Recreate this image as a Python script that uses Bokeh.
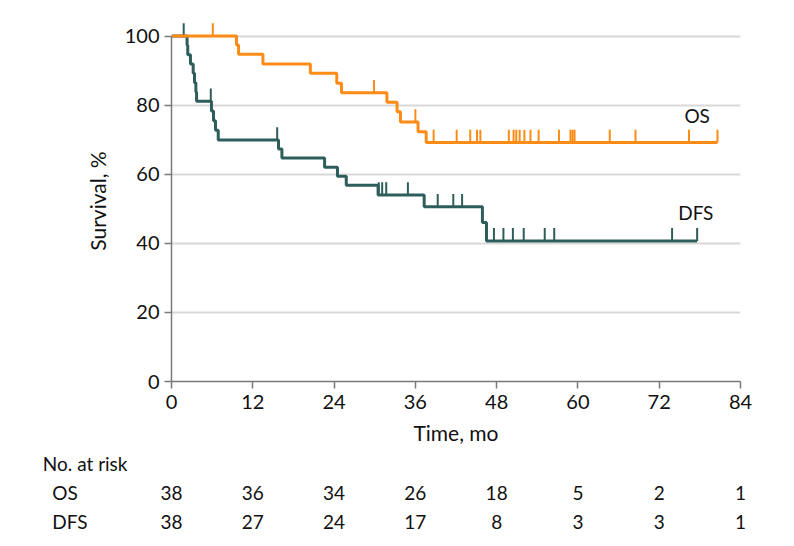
from bokeh.plotting import figure
from bokeh.models import Range1d, FixedTicker
from bokeh.layouts import column
from bokeh.core.properties import value
from bokeh.embed import file_html
from bokeh.resources import INLINE

# ---- data ----
os_times = [0, 9.6, 9.9, 13.5, 20.5, 24.4, 25.1, 31.8, 33.3, 33.8, 36.4, 37.6, 80.6]
os_surv = [100, 97.4, 94.7, 91.9, 89.2, 86.3, 83.6, 80.8, 78.1, 75.1, 72.3, 69.2, 69.2]
os_censor = [6.1, 29.9, 36.0, 38.7, 42.1, 44.1, 45.1, 45.6, 49.8, 50.5, 50.9, 51.4,
             52.1, 53.0, 54.2, 57.2, 58.9, 59.2, 59.5, 64.7, 68.5, 76.4, 80.6]

dfs_times = [0, 2.3, 2.4, 2.8, 3.2, 3.4, 3.6, 3.7, 5.9, 6.2, 6.5, 6.9, 15.8, 16.3,
             22.6, 24.5, 25.8, 30.5, 37.3, 45.9, 46.5, 77.6]
dfs_surv = [100, 97.3, 94.6, 91.9, 89.2, 86.5, 83.8, 81.1, 78.3, 75.5, 72.7, 69.9,
            67.3, 64.7, 62.0, 59.4, 56.8, 54.0, 50.6, 46.0, 40.7, 40.7]
dfs_censor = [1.8, 5.8, 15.6, 30.6, 31.1, 31.7, 34.9, 39.3, 41.6, 42.9, 47.6, 49.0,
              50.4, 52.0, 55.1, 56.5, 73.9, 77.6]

risk_times = [0, 12, 24, 36, 48, 60, 72, 84]
os_at_risk = [38, 36, 34, 26, 18, 5, 2, 1]
dfs_at_risk = [38, 27, 24, 17, 8, 3, 3, 1]

x_ticks = [0, 12, 24, 36, 48, 60, 72, 84]
y_ticks = [0, 20, 40, 60, 80, 100]

OS_COLOR = "#FD8C16"
DFS_COLOR = "#2E5E5B"
TEXT_COLOR = "#111111"
FONT = "Lato"


def surv_at(times, surv, t):
    s = surv[0]
    for ti, si in zip(times, surv):
        if ti <= t:
            s = si
    return s


W = 786
LEFT, RIGHT = 171, 46
FRAME_W = W - LEFT - RIGHT
TOP = 20
FRAME_H = 361
H_MAIN = 453
H_TABLE = 85

p = figure(width=W, height=H_MAIN, output_backend="svg", toolbar_location=None,
           x_range=Range1d(0, 84), y_range=Range1d(0, 104.5),
           min_border_left=LEFT, min_border_right=RIGHT,
           min_border_top=TOP, min_border_bottom=H_MAIN - TOP - FRAME_H)
p.frame_align = False
p.outline_line_color = None
p.background_fill_color = "white"
p.border_fill_color = "white"

p.xgrid.visible = False
p.ygrid.ticker = FixedTicker(ticks=y_ticks)
p.ygrid.grid_line_color = "#d9d9d9"
p.ygrid.grid_line_width = 2

for ax in (p.xaxis[0], p.yaxis[0]):
    ax.axis_line_color = "#7a7a7a"
    ax.axis_line_width = 1.5
    ax.major_tick_line_color = "#7a7a7a"
    ax.major_tick_line_width = 1.5
    ax.major_tick_in = 0
    ax.major_tick_out = 7
    ax.minor_tick_line_color = None
    ax.major_label_text_font = FONT
    ax.major_label_text_font_size = "20px"
    ax.major_label_text_color = TEXT_COLOR
    ax.axis_label_text_font = FONT
    ax.axis_label_text_font_size = "21px"
    ax.axis_label_text_font_style = "normal"
    ax.axis_label_text_color = TEXT_COLOR

p.xaxis.ticker = FixedTicker(ticks=x_ticks)
p.yaxis.ticker = FixedTicker(ticks=y_ticks)
p.yaxis.bounds = (0, 100)
p.xaxis.axis_label = "Time, mo"
p.yaxis.axis_label = "Survival, %"
p.xaxis.major_label_standoff = 6
p.xaxis.axis_label_standoff = 8
p.yaxis.major_label_standoff = 5
p.yaxis.axis_label_standoff = 12

TICK_H = 3.7

# DFS
p.step(dfs_times, dfs_surv, mode="after", line_width=3, line_color=DFS_COLOR)
dfs_cs = [surv_at(dfs_times, dfs_surv, t) for t in dfs_censor]
p.segment(x0=dfs_censor, y0=dfs_cs, x1=dfs_censor, y1=[s + TICK_H for s in dfs_cs],
          line_width=2, line_color=DFS_COLOR)

# OS
p.step(os_times, os_surv, mode="after", line_width=3, line_color=OS_COLOR)
os_cs = [surv_at(os_times, os_surv, t) for t in os_censor]
p.segment(x0=os_censor, y0=os_cs, x1=os_censor, y1=[s + TICK_H for s in os_cs],
          line_width=2, line_color=OS_COLOR)

p.text(x=[77.6], y=[76.9], text=["OS"], text_align="center", text_baseline="middle",
       text_font=value(FONT), text_font_size="19px", text_color=TEXT_COLOR)
p.text(x=[77.4], y=[48.8], text=["DFS"], text_align="center", text_baseline="middle",
       text_font=value(FONT), text_font_size="19px", text_color=TEXT_COLOR)

# ---- number at risk table: full-width frame, same months-to-pixel scale ----
px_per_mo = FRAME_W / 84
t = figure(width=W, height=H_TABLE, output_backend="svg", toolbar_location=None,
           x_range=Range1d(-LEFT / px_per_mo, (W - LEFT) / px_per_mo),
           y_range=Range1d(H_TABLE, 0),
           min_border_left=0, min_border_right=0, min_border_top=0, min_border_bottom=0)
t.frame_align = False
t.axis.visible = False
t.grid.visible = False
t.outline_line_color = None
t.border_fill_color = "white"
t.background_fill_color = "white"

row_no, row_os, row_dfs = 10, 39, 68
t.text(x=[-19.0], y=[row_no], text=["No. at risk"], text_align="left",
       text_baseline="middle", text_font=value(FONT), text_font_size="19px",
       text_color=TEXT_COLOR)
t.text(x=[-17.6, -17.6], y=[row_os, row_dfs], text=["OS", "DFS"], text_align="left",
       text_baseline="middle", text_font=value(FONT), text_font_size="19px",
       text_color=TEXT_COLOR)
t.text(x=risk_times, y=[row_os] * len(risk_times), text=[str(v) for v in os_at_risk],
       text_align="center", text_baseline="middle", text_font=value(FONT),
       text_font_size="19px", text_color=TEXT_COLOR)
t.text(x=risk_times, y=[row_dfs] * len(risk_times), text=[str(v) for v in dfs_at_risk],
       text_align="center", text_baseline="middle", text_font=value(FONT),
       text_font_size="19px", text_color=TEXT_COLOR)

layout = column(p, t, spacing=0)
open("out.html", "w").write(file_html(layout, INLINE))
